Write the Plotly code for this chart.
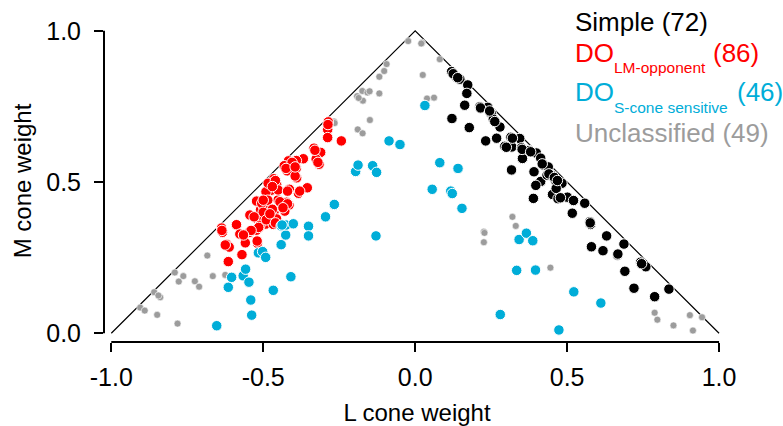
import plotly.graph_objects as go

# Cone-weight coordinates (L, M) for each cell class
simple_L = [0.120, 0.134, 0.147, 0.173, 0.170, 0.163, 0.121, 0.178, 0.213, 0.239,
            0.250, 0.257, 0.279, 0.268, 0.232, 0.315, 0.344, 0.295, 0.318, 0.350,
            0.375, 0.399, 0.353, 0.413, 0.421, 0.438, 0.391, 0.317, 0.413, 0.397,
            0.434, 0.454, 0.463, 0.483, 0.452, 0.470, 0.501, 0.521, 0.389, 0.517,
            0.464, 0.558, 0.575, 0.577, 0.630, 0.580, 0.618, 0.666, 0.687, 0.742,
            0.759, 0.690, 0.720, 0.788, 0.835,
            0.125, 0.140, 0.215, 0.245, 0.262, 0.300, 0.320, 0.352, 0.380, 0.418,
            0.440, 0.458, 0.468, 0.478, 0.576, 0.667, 0.745]
simple_M = [0.865, 0.849, 0.840, 0.821, 0.793, 0.754, 0.710, 0.680, 0.749, 0.747,
            0.727, 0.708, 0.682, 0.645, 0.636, 0.648, 0.644, 0.618, 0.616, 0.613,
            0.604, 0.596, 0.578, 0.579, 0.556, 0.550, 0.534, 0.540, 0.502, 0.489,
            0.523, 0.520, 0.503, 0.496, 0.459, 0.445, 0.450, 0.439, 0.446, 0.397,
            0.479, 0.430, 0.369, 0.360, 0.322, 0.286, 0.273, 0.259, 0.295, 0.235,
            0.220, 0.205, 0.149, 0.121, 0.146,
            0.858, 0.845, 0.745, 0.735, 0.700, 0.615, 0.645, 0.608, 0.600, 0.560,
            0.527, 0.515, 0.505, 0.448, 0.365, 0.262, 0.230]

lm_L = [-0.286, -0.288, -0.288, -0.243, -0.333, -0.311, -0.326, -0.316, -0.368, -0.391,
        -0.417, -0.431, -0.421, -0.391, -0.390, -0.465, -0.467, -0.456, -0.478, -0.474,
        -0.414, -0.355, -0.384, -0.522, -0.491, -0.494, -0.451, -0.423, -0.415, -0.509,
        -0.478, -0.465, -0.429, -0.500, -0.544, -0.522, -0.484, -0.492, -0.467, -0.511,
        -0.456, -0.588, -0.522, -0.547, -0.577, -0.559, -0.519, -0.637, -0.634, -0.620,
        -0.612, -0.570, -0.615, -0.491, -0.451, -0.500, -0.484,
        -0.287, -0.330, -0.320, -0.405, -0.425, -0.395, -0.460, -0.470, -0.420, -0.380,
        -0.505, -0.485, -0.445, -0.420, -0.470, -0.500, -0.530, -0.490, -0.460, -0.515,
        -0.540, -0.565, -0.520, -0.625, -0.636, -0.478, -0.435, -0.500, -0.395]
lm_M = [0.699, 0.674, 0.647, 0.636, 0.612, 0.598, 0.576, 0.559, 0.577, 0.571,
        0.570, 0.554, 0.537, 0.546, 0.514, 0.511, 0.499, 0.492, 0.489, 0.473,
        0.476, 0.481, 0.463, 0.437, 0.436, 0.426, 0.441, 0.433, 0.424, 0.408,
        0.407, 0.399, 0.404, 0.391, 0.391, 0.379, 0.369, 0.361, 0.360, 0.357,
        0.378, 0.359, 0.341, 0.333, 0.328, 0.299, 0.298, 0.348, 0.334, 0.294,
        0.285, 0.260, 0.237, 0.468, 0.474, 0.421, 0.496,
        0.690, 0.605, 0.565, 0.565, 0.545, 0.520, 0.505, 0.485, 0.470, 0.470,
        0.430, 0.440, 0.435, 0.428, 0.410, 0.400, 0.385, 0.375, 0.365, 0.350,
        0.340, 0.325, 0.305, 0.292, 0.340, 0.395, 0.415, 0.440, 0.550]

s_L = [-0.653, -0.538, -0.541, -0.615, -0.604, -0.566, -0.558, -0.547, -0.467, -0.409,
       -0.516, -0.502, -0.492, -0.441, -0.426, -0.441, -0.425, -0.401, -0.351, -0.351,
       -0.295, -0.266, -0.196, 0.032, -0.086, -0.050, -0.188, -0.140, -0.127, 0.081,
       0.141, 0.056, 0.117, 0.122, 0.154, -0.129, 0.342, 0.366, 0.387, 0.334,
       0.396, 0.280, 0.473, 0.522, 0.611, -0.438]
s_M = [0.025, 0.060, 0.110, 0.152, 0.185, 0.190, 0.212, 0.169, 0.142, 0.187,
       0.266, 0.270, 0.251, 0.293, 0.325, 0.355, 0.358, 0.362, 0.354, 0.322,
       0.385, 0.426, 0.535, 0.753, 0.636, 0.624, 0.556, 0.554, 0.532, 0.564,
       0.545, 0.476, 0.470, 0.462, 0.413, 0.322, 0.310, 0.331, 0.306, 0.208,
       0.209, 0.062, 0.011, 0.137, 0.100, 0.358]

unc_L = [-0.023, 0.023, -0.094, -0.102, -0.118, 0.081, 0.025, -0.174, -0.157, -0.191,
         -0.172, -0.118, 0.039, 0.062, -0.149, -0.189, -0.173, -0.267, 0.320, 0.331,
         0.226, 0.226, 0.445, 0.788, 0.797, 0.850, 0.904, 0.944, 0.914, -0.684,
         -0.791, -0.763, -0.778, -0.725, -0.711, -0.666, -0.625, -0.859, -0.839, -0.905,
         -0.890, -0.849, -0.782,
         -0.150, -0.186, 0.020, -0.265, 0.228, -0.845]
unc_M = [0.966, 0.961, 0.890, 0.867, 0.848, 0.906, 0.854, 0.801, 0.796, 0.784,
         0.769, 0.793, 0.776, 0.779, 0.705, 0.674, 0.661, 0.700, 0.385, 0.355,
         0.336, 0.301, 0.217, 0.068, 0.045, 0.026, 0.060, 0.053, 0.009, 0.257,
         0.201, 0.189, 0.171, 0.172, 0.154, 0.189, 0.193, 0.136, 0.119, 0.085,
         0.075, 0.061, 0.032,
         0.800, 0.778, 0.958, 0.695, 0.332, 0.125]

# Boundary of the valid cone-weight region
bound_L = [-1, 0, 1]
bound_M = [0, 1, 0]

tick_vals = [-1.0, -0.5, 0.0, 0.5, 1.0]
tick_text = ["-1.0", "-0.5", "0.0", "0.5", "1.0"]
ytick_vals = [0.0, 0.5, 1.0]
ytick_text = ["0.0", "0.5", "1.0"]

BLACK = "#000000"
RED = "#FF0000"
CYAN = "#00ADD8"
GRAY = "#9C9C9C"
FONT = "Liberation Sans, Arial, Helvetica, sans-serif"

fig = go.Figure()
fig.add_trace(go.Scatter(x=bound_L, y=bound_M, mode="lines",
                         line=dict(color="black", width=1.2), hoverinfo="skip"))
fig.add_trace(go.Scatter(x=unc_L, y=unc_M, mode="markers", name="Unclassified",
                         marker=dict(size=7, color=GRAY, line=dict(color="white", width=0.6))))
fig.add_trace(go.Scatter(x=simple_L, y=simple_M, mode="markers", name="Simple",
                         marker=dict(size=10.5, color=BLACK, line=dict(color="white", width=1))))
fig.add_trace(go.Scatter(x=lm_L, y=lm_M, mode="markers", name="DO LM-opponent",
                         marker=dict(size=10.5, color=RED, line=dict(color="white", width=1))))
fig.add_trace(go.Scatter(x=s_L, y=s_M, mode="markers", name="DO S-cone sensitive",
                         marker=dict(size=10.5, color=CYAN, line=dict(color="white", width=1))))

# Offset axis spines spanning only the data range
fig.add_shape(type="line", xref="x", yref="paper", x0=-1, x1=1, y0=0, y1=0,
              line=dict(color="black", width=2))
fig.add_shape(type="line", xref="paper", yref="y", x0=0, x1=0, y0=0, y1=1,
              line=dict(color="black", width=2))

# Class key in the upper right: (text, colour, size, x, y) in paper units
key_items = [
    ("Simple (72)", BLACK, 26, 0.7492, 0.9953),
    ("DO", RED, 26, 0.7492, 0.8965),
    ("LM-opponent", RED, 15.5, 0.8108, 0.8525),
    ("(86)", RED, 26, 0.9696, 0.8965),
    ("DO", CYAN, 26, 0.7492, 0.7773),
    ("S-cone sensitive", CYAN, 15.5, 0.8108, 0.7283),
    ("(46)", CYAN, 26, 1.0075, 0.7773),
    ("Unclassified (49)", GRAY, 26, 0.7492, 0.6506),
]
for text, color, size, xp, yp in key_items:
    fig.add_annotation(text=text, xref="paper", yref="paper", x=xp, y=yp,
                       xanchor="left", yanchor="middle", showarrow=False,
                       font=dict(family=FONT, size=size, color=color))

axis_common = dict(showgrid=False, zeroline=False, showline=False, ticks="outside",
                   ticklen=9, tickwidth=2, tickcolor="black", automargin=False,
                   tickfont=dict(family=FONT, size=25, color="black"))

fig.update_layout(
    width=783, height=426,
    margin=dict(l=104, r=53, t=20, b=84),
    paper_bgcolor="white", plot_bgcolor="white",
    showlegend=False,
    font=dict(family=FONT, color="black"),
    xaxis=dict(range=[-1.024, 1.036], tickvals=tick_vals, ticktext=tick_text,
               ticklabelstandoff=4,
               title=dict(text="L cone weight", font=dict(family=FONT, size=24), standoff=14),
               **axis_common),
    yaxis=dict(range=[-0.0288, 1.0357], tickvals=ytick_vals, ticktext=ytick_text,
               ticklabelstandoff=8,
               title=dict(text="M cone weight", font=dict(family=FONT, size=24), standoff=7),
               **axis_common),
)

fig.write_html("out.html")
